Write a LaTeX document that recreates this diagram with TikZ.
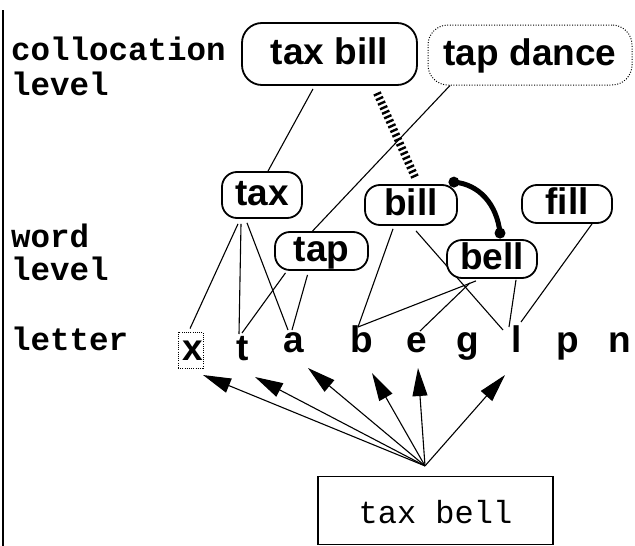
\documentclass[tikz,border=0pt]{standalone}
\usepackage{fontspec}
\setmainfont{Liberation Sans}
\newfontfamily\monofam{Liberation Mono}
\usetikzlibrary{arrows.meta,calc,backgrounds}
\newcommand\wfont{\fontsize{37}{40}\selectfont\bfseries}
\newcommand\lfont{\monofam\fontsize{32.5}{34}\selectfont\bfseries}
\newcommand\bfont{\monofam\fontsize{32}{34}\selectfont}
\tikzset{
  wordbox/.style={draw, fill=white, line width=1.8pt, rounded corners=15pt, inner sep=0pt,
    font=\wfont, text height=24pt, text depth=4pt},
  dotbox/.style={wordbox, line width=1pt, dash pattern=on 1pt off 1.6pt},
  letter/.style={inner sep=0pt, anchor=base, font=\wfont},
  lab/.style={inner sep=0pt, anchor=base west, font=\lfont},
  link/.style={line width=1.1pt},
  arr/.style={line width=1.1pt, -{Triangle[length=28pt,width=15pt]}},
  hatch/.style={line width=8pt, dash pattern=on 2.4pt off 2.6pt},
  assoc/.style={line width=5pt},
}
\begin{document}
\begin{tikzpicture}[x=1pt,y=-1pt]
\useasboundingbox (0,0) rectangle (635,546);
\draw[line width=2.5pt] (3,10) -- (3,546);

% level labels
\node[lab] (lcol) at (11,60) {collocation};
\node[lab] (lcol2) at (11,95) {level};
\node[lab] (lword) at (11,247) {word};
\node[lab] (lword2) at (11,280) {level};
\node[lab] (llet) at (11,350) {letter};

% collocation nodes
\node[wordbox, minimum width=175pt, minimum height=62pt, rounded corners=20pt] (taxbill) at (329.5,54) {tax bill};
\node[dotbox, minimum width=204pt, minimum height=60pt, rounded corners=20pt] (tapdance) at (530,55) {tap dance};

% word nodes
\node[wordbox, minimum width=80pt, minimum height=46pt] (tax) at (262,195) {tax};
\node[wordbox, minimum width=93pt, minimum height=38pt] (tap) at (321.5,251) {tap};
\node[wordbox, minimum width=92pt, minimum height=40pt] (bill) at (411,205) {bill};
\node[wordbox, minimum width=90pt, minimum height=38pt] (bell) at (492,259) {bell};
\node[wordbox, minimum width=90pt, minimum height=38pt] (fill) at (567,204) {fill};

% letter nodes
\node[letter] (lx) at (193,360) {x};
\node[letter] (lt) at (243,360) {t};
\node[letter] (la) at (294,352) {a};
\node[letter] (lb) at (362,352) {b};
\node[letter] (le) at (417,352) {e};
\node[letter] (lg) at (468,352) {g};
\node[letter] (ll) at (517,352) {l};
\node[letter] (lp) at (568,352) {p};
\node[letter] (ln) at (620,352) {n};
\node[draw, line width=0.8pt, dash pattern=on 1pt off 1.2pt, minimum width=25pt, minimum height=36pt, inner sep=0pt] (xbox) at ($(lx.base)+(-2.5,-10)$) {};

% input box
\node[draw, line width=1.2pt, minimum width=235pt, minimum height=68pt, inner sep=0pt,
  font=\bfont, text height=25pt, text depth=0pt] (input) at (435.5,510.5) {tax bell};
\coordinate (src) at ($(input.north)+(-10.5,-10)$);

\begin{pgfonlayer}{background}
  % collocation -> word
  \draw[link] ($(taxbill.south)+(-16.5,3)$) -- ($(tax.north)+(6,0)$);
  \draw[link] ($(tapdance.south)+(-80,0)$) -- ($(tap.north)+(-9,0)$);
  % word -> letter
  \draw[link] ($(tax.south)+(-24,5)$) -- ($(xbox.north)+(-0.5,-3)$);
  \draw[link] ($(tax.south)+(-21,5)$) -- ($(lt.base)+(-4,-26)$);
  \draw[link] ($(tax.south)+(-15,4)$) -- ($(la.base)+(-6,-22)$);
  \draw[link] ($(tap.south)+(-36,2)$) -- ($(lt.base)+(-1,-27)$);
  \draw[link] ($(tap.south)+(-14,4)$) -- ($(la.base)+(-2,-22)$);
  \draw[link] ($(bill.south)+(-18,3)$) -- ($(lb.base)+(-4,-25)$);
  \draw[link] ($(bill.south)+(5,5)$) -- ($(ll.base)+(-14,-22)$);
  \draw[link] ($(bell.south)+(-16,2)$) -- ($(lb.base)+(-4,-25)$);
  \draw[link] ($(bell.south)+(-22,4)$) -- ($(le.base)+(3,-21)$);
  \draw[link] ($(bell.south)+(24,1)$) -- ($(ll.base)+(-8,-25)$);
  \draw[link] ($(fill.south)+(25,0)$) -- ($(ll.base)+(4,-30)$);
  % input -> letters
  \draw[arr] (src) -- ($(lx.base)+(10,15)$);
  \draw[arr] (src) -- ($(lt.base)+(12,17)$);
  \draw[arr] (src) -- ($(la.base)+(14,16)$);
  \draw[arr] (src) -- ($(lb.base)+(10,21)$);
  \draw[arr] (src) -- ($(le.base)+(1,16)$);
  \draw[arr] (src) -- ($(ll.base)+(-12,23)$);
\end{pgfonlayer}

% hatched link tax bill -> bill
\draw[hatch] ($(taxbill.south)+(47.5,7)$) -- ($(bill.north)+(4,-7)$);
% associative arc bill -> bell
\coordinate (arcA) at ($(bill.north east)+(-4,-2)$);
\coordinate (arcB) at ($(bell.north)+(8,-6)$);
\draw[assoc] (arcA) .. controls ($(arcA)+(25,2)$) and ($(arcB)+(-3,-29)$) .. (arcB);
\fill (arcA) circle (5.5);
\fill (arcB) circle (5.5);
\end{tikzpicture}
\end{document}
